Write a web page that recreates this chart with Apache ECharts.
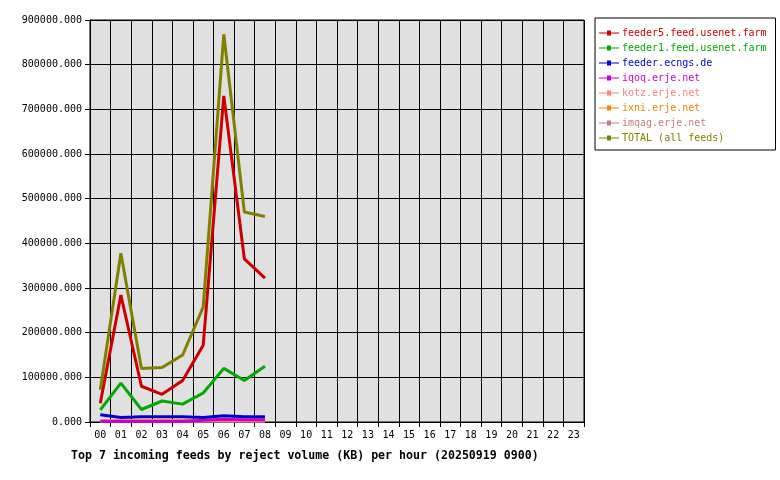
<!DOCTYPE html>
<html><head><meta charset="utf-8">
<script src="https://cdn.jsdelivr.net/npm/echarts@6/dist/echarts.min.js"></script>
<style>html,body{margin:0;padding:0;background:#fff}#c{width:780px;height:480px}</style>
</head><body><div id="c"></div>
<script>
const hours = ["00","01","02","03","04","05","06","07","08","09","10","11","12","13","14","15","16","17","18","19","20","21","22","23"];
const seriesNames = ["feeder5.feed.usenet.farm","feeder1.feed.usenet.farm","feeder.ecngs.de","iqoq.erje.net","kotz.erje.net","ixni.erje.net","imqag.erje.net","TOTAL (all feeds)"];
const seriesColors = ["#cc0000","#00aa00","#0000cc","#cc00cc","#ff8080","#ff8000","#c08080","#808000"];
const feeder5 = [42000,284000,80000,62000,93000,172000,730000,365000,322000];
const feeder1 = [27000,87000,28000,47000,40000,65000,120000,93000,125000];
const ecngs = [16000,10000,12000,12000,12000,10000,14000,12000,12000];
const iqoq = [1000,1000,1000,1000,1000,4000,6000,5000,5000];
const kotz = [2000,2000,2000,2000,2000,2000,2000,2000,2000];
const ixni = [1000,1000,3000,3000,3000,3000,3000,3000,3000];
const imqag = [3000,3000,3000,3000,3000,3000,3000,3000,3000];
const total = [72000,378000,120000,122000,150000,257000,868000,470000,460000];
const yTicks = [0,100000,200000,300000,400000,500000,600000,700000,800000,900000];
const dataSets = [feeder5,feeder1,ecngs,iqoq,kotz,ixni,imqag,total];
const drawOrder = [6,5,4,3,2,1,0,7];
const mono = "DejaVu Sans Mono";
const chart = echarts.init(document.getElementById('c'));
chart.setOption({
  animation:false,
  backgroundColor:'#fff',
  grid:{left:90,right:196,top:20,bottom:58,backgroundColor:'#e0e0e0',show:true,borderColor:'#000',borderWidth:1},
  title:{text:'Top 7 incoming feeds by reject volume (KB) per hour (20250919 0900)',left:66,top:445,
    textStyle:{fontFamily:mono,fontSize:11.6,fontWeight:'bold',color:'#000'}},
  legend:{orient:'vertical',left:595,top:18,itemGap:3,itemWidth:20,itemHeight:8,
    borderColor:'#000',borderWidth:1,padding:[9,9,6,4],
    data:seriesNames.map((n,i)=>({name:n,icon:'path://M0,4H8V2H12V4H20V5H12V7H8V5H0Z',itemStyle:{color:seriesColors[i]},textStyle:{color:seriesColors[i]}})),
    textStyle:{fontFamily:mono,fontSize:10,lineHeight:12,padding:[0,0,0,-2]}},
  xAxis:{type:'category',data:hours,boundaryGap:true,
    axisLine:{lineStyle:{color:'#000'}},axisTick:{show:true,alignWithLabel:false,lineStyle:{color:'#000'}},
    axisLabel:{fontFamily:mono,fontSize:10,color:'#000',interval:0},
    splitLine:{show:true,interval:0,lineStyle:{color:'#000',width:1}}},
  yAxis:{type:'value',min:0,max:900000,interval:100000,
    axisLine:{show:true,lineStyle:{color:'#000'}},axisTick:{show:true,lineStyle:{color:'#000'}},
    axisLabel:{fontFamily:mono,fontSize:10,color:'#000',formatter:v=>v.toFixed(3)},
    splitLine:{show:true,lineStyle:{color:'#000',width:1}}},
  series:drawOrder.map(i=>({name:seriesNames[i],type:'line',data:dataSets[i],showSymbol:false,symbol:'none',
    lineStyle:{color:seriesColors[i],width:3},itemStyle:{color:seriesColors[i]},z:i===7?3:2}))
});
</script></body></html>
